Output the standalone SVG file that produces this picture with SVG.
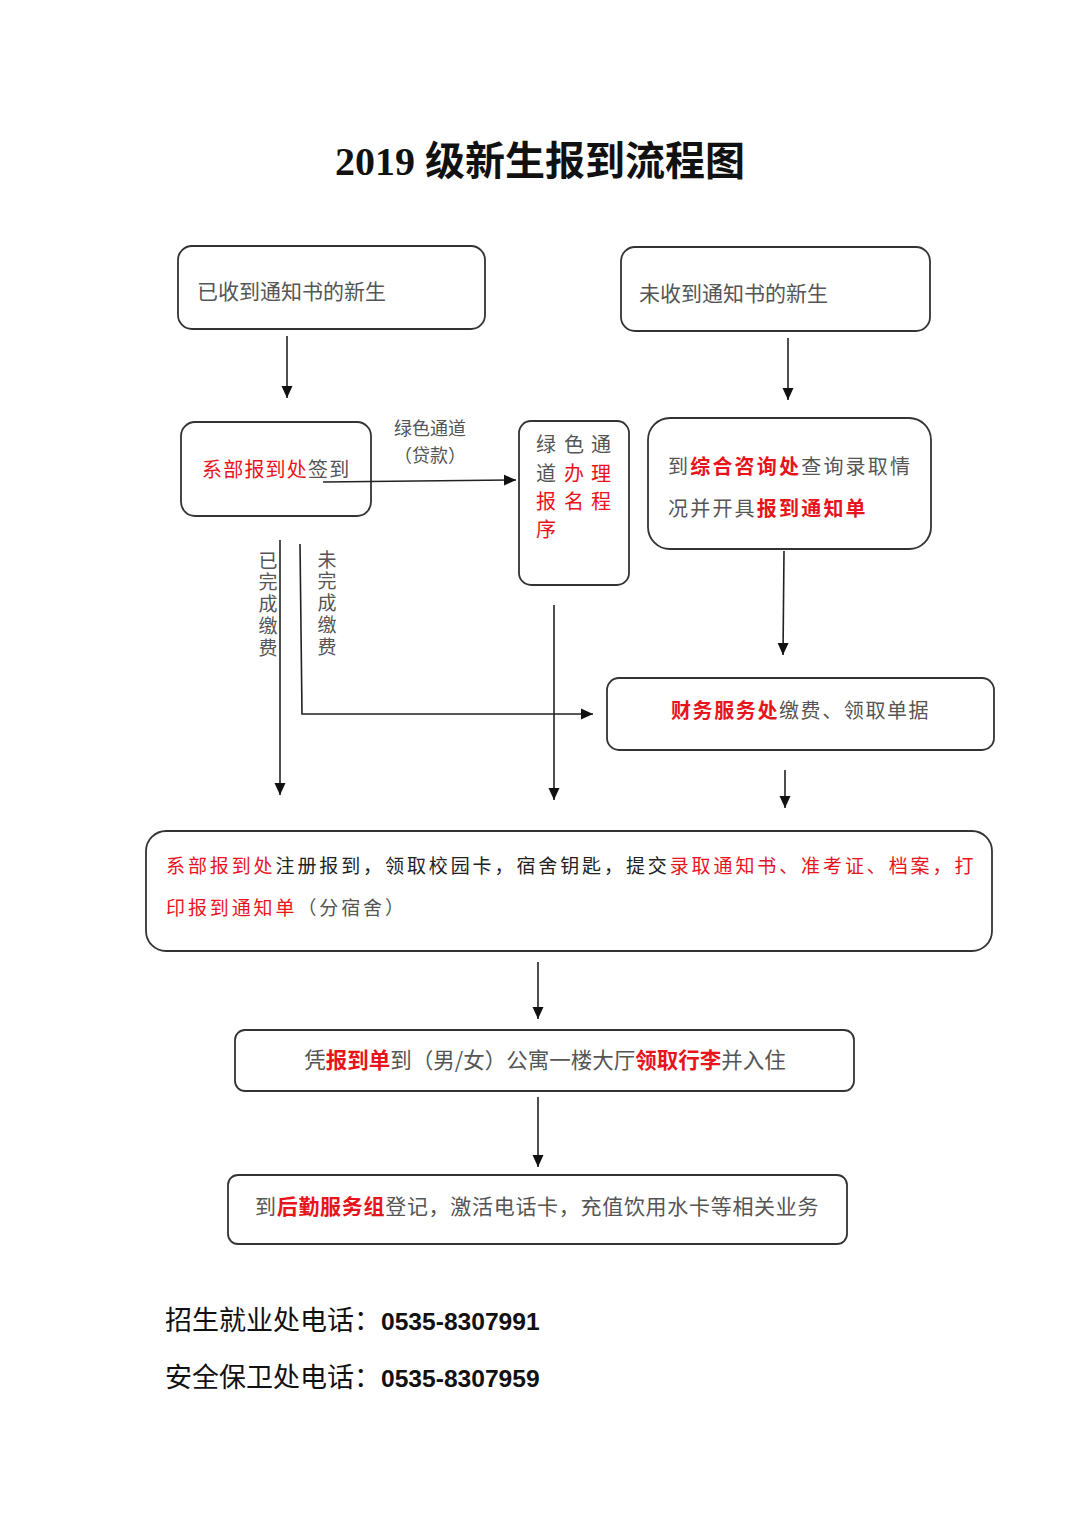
<svg xmlns="http://www.w3.org/2000/svg" width="1080" height="1527" viewBox="0 0 1080 1527">
<defs>
<marker id="ah" markerUnits="userSpaceOnUse" markerWidth="12" markerHeight="12" viewBox="0 0 12 12" refX="12" refY="6" orient="auto">
<path d="M0,0.5 L12,6 L0,11.5 Z" fill="#111"/>
</marker>
<style>
.box{fill:#fff;stroke:#333;stroke-width:1.8}
.ln{fill:none;stroke:#222;stroke-width:1.6}
.arr{fill:none;stroke:#222;stroke-width:1.6;marker-end:url(#ah)}
text{font-family:"Noto Sans CJK SC","Noto Sans",sans-serif}
.g{fill:#555}
.k{fill:#222}
.r{fill:#e8141c}
.rb{fill:#e8141c;font-weight:bold}
.v{writing-mode:vertical-rl;font-size:19px;letter-spacing:2.7px}
</style>
</defs>
<rect width="1080" height="1527" fill="#fff"/>

<text x="540" y="175" text-anchor="middle" font-size="40" font-weight="bold" fill="#111" style="font-family:'Liberation Serif','Noto Sans CJK SC',serif">2019 级新生报到流程图</text>

<g id="n1"><rect class="box" x="178" y="246" width="307" height="83" rx="14"/>
<text class="g" x="197" y="299" font-size="21">已收到通知书的新生</text></g>

<g id="n2"><rect class="box" x="621" y="247" width="309" height="84" rx="14"/>
<text class="g" x="639" y="301" font-size="21">未收到通知书的新生</text></g>

<g id="n3"><rect class="box" x="181" y="422" width="190" height="94" rx="14"/>
<text x="202" y="477" font-size="20" letter-spacing="1.2"><tspan class="r">系部报到处</tspan><tspan class="g">签到</tspan></text></g>

<g id="n4"><rect class="box" x="519" y="421" width="110" height="164" rx="12"/>
<g font-size="20" text-anchor="middle">
<text class="g" x="546" y="452">绿</text><text class="g" x="574" y="452">色</text><text class="g" x="601" y="452">通</text>
<text class="g" x="546" y="481">道</text><text class="r" x="574" y="481">办</text><text class="r" x="601" y="481">理</text>
<text class="r" x="546" y="509">报</text><text class="r" x="574" y="509">名</text><text class="r" x="601" y="509">程</text>
<text class="r" x="546" y="537">序</text>
</g></g>

<g id="n5"><rect class="box" x="648" y="418" width="283" height="131" rx="22"/>
<text x="668" y="474" font-size="20" letter-spacing="2.2"><tspan class="g">到</tspan><tspan class="rb">综合咨询处</tspan><tspan class="g">查询录取情</tspan></text>
<text x="668" y="516" font-size="20" letter-spacing="2.2"><tspan class="g">况并开具</tspan><tspan class="rb">报到通知单</tspan></text></g>

<g id="n6"><rect class="box" x="607" y="678" width="387" height="72" rx="12"/>
<text x="671" y="718" font-size="20" letter-spacing="1.6"><tspan class="rb">财务服务处</tspan><tspan class="g">缴费、领取单据</tspan></text></g>

<g id="n7"><rect class="box" x="146" y="831" width="846" height="120" rx="20"/>
<text x="166" y="873" font-size="19" letter-spacing="2.9"><tspan class="r">系部报到处</tspan><tspan class="k">注册报到，领取校园卡，宿舍钥匙，提交</tspan><tspan class="r">录取通知书、准考证、档案，打</tspan></text>
<text x="166" y="915" font-size="19" letter-spacing="2.9"><tspan class="r">印报到通知单</tspan><tspan class="g">（分宿舍）</tspan></text></g>

<g id="n8"><rect class="box" x="235" y="1030" width="619" height="61" rx="10"/>
<text x="545" y="1068" font-size="21.5" text-anchor="middle"><tspan class="g">凭</tspan><tspan class="rb">报到单</tspan><tspan class="g">到（男/女）公寓一楼大厅</tspan><tspan class="rb">领取行李</tspan><tspan class="g">并入住</tspan></text></g>

<g id="n9"><rect class="box" x="228" y="1175" width="619" height="69" rx="10"/>
<text x="255" y="1214" font-size="21" letter-spacing="0.7"><tspan class="g">到</tspan><tspan class="rb">后勤服务组</tspan><tspan class="g">登记，激活电话卡，充值饮用水卡等相关业务</tspan></text></g>

<g id="connectors">
<line class="arr" x1="287" y1="336" x2="287" y2="398"/>
<line class="arr" x1="788" y1="338" x2="788" y2="400"/>
<line class="arr" x1="323" y1="482" x2="516" y2="480"/>
<line class="arr" x1="280" y1="540" x2="280" y2="795"/>
<polyline class="arr" points="300,544 302,714 593,714"/>
<line class="arr" x1="554" y1="605" x2="554" y2="800"/>
<line class="arr" x1="784" y1="551" x2="783" y2="655"/>
<line class="arr" x1="785" y1="770" x2="785" y2="808"/>
<line class="arr" x1="538" y1="962" x2="538" y2="1019"/>
<line class="arr" x1="538" y1="1097" x2="538" y2="1167"/>
</g>

<g id="labels" class="g" font-size="18" text-anchor="middle">
<text x="430" y="435">绿色通道</text>
<text x="430" y="462">（贷款）</text>
</g>
<g id="vlabels" class="g">
<text class="v" x="268" y="551">已完成缴费</text>
<text class="v" x="327" y="550">未完成缴费</text>
</g>

<g id="footer" fill="#111">
<text x="165" y="1330" font-size="27">招生就业处电话：<tspan font-weight="bold" font-size="24.6" style="font-family:'Liberation Sans',sans-serif">0535-8307991</tspan></text>
<text x="165" y="1387" font-size="27">安全保卫处电话：<tspan font-weight="bold" font-size="24.6" style="font-family:'Liberation Sans',sans-serif">0535-8307959</tspan></text>
</g>
</svg>
